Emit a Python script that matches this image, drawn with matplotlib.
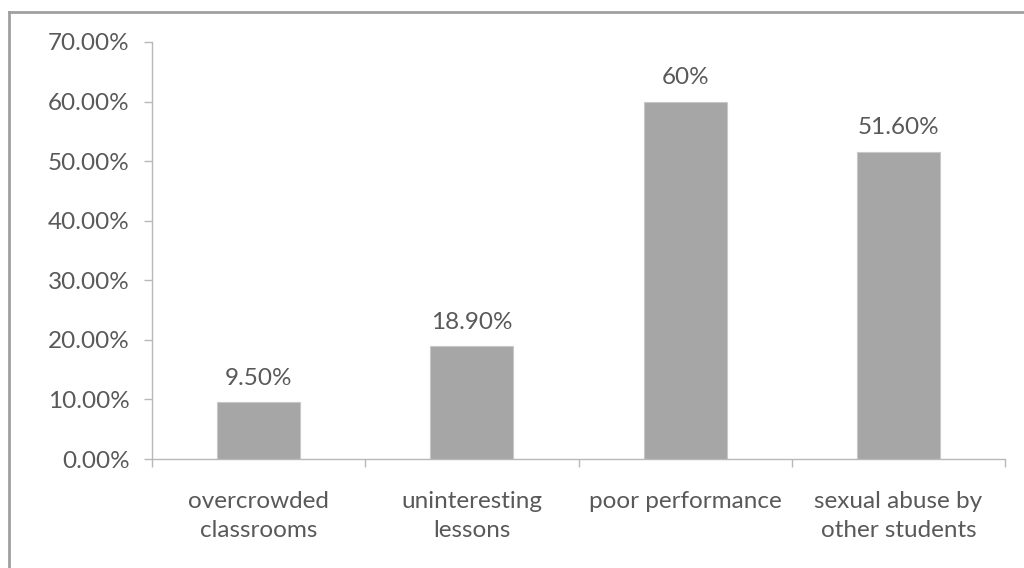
import numpy as np
import matplotlib
matplotlib.use('Agg')
import matplotlib.pyplot as plt
from matplotlib.lines import Line2D

categories = ['overcrowded\nclassrooms', 'uninteresting\nlessons', 'poor performance', 'sexual abuse by\nother students']
values = [9.5, 18.9, 60.0, 51.6]
labels = ['9.50%', '18.90%', '60%', '51.60%']
yticks = [0, 10, 20, 30, 40, 50, 60, 70]

plt.rcParams['font.family'] = ['Lato', 'DejaVu Sans']
text_color = '#595959'
axis_color = '#b8b8b8'
fs = 17.5

fig = plt.figure(figsize=(10.24, 5.68), dpi=100)
ax = fig.add_axes([152 / 1024, 1 - 459 / 568, (1005 - 152) / 1024, (459 - 42) / 568])

x = np.arange(len(categories))
ax.bar(x, values, width=0.39, color='#a6a6a6', edgecolor='#c8c8c8', linewidth=0.8, zorder=2)
for xi, v, lab in zip(x, values, labels):
    ax.text(xi, v + 2.3, lab, ha='center', va='bottom', fontsize=fs, color=text_color)

ax.set_xlim(-0.5, len(categories) - 0.5)
ax.set_ylim(0, 70)
ax.set_yticks(yticks)
ax.set_yticklabels(['%.2f%%' % t for t in yticks], fontsize=fs, color=text_color)
ax.set_xticks(x)
ax.set_xticklabels(categories, fontsize=fs, color=text_color, linespacing=1.5)
ax.set_xticks(np.arange(-0.5, len(categories)), minor=True)

ax.tick_params(axis='x', which='major', length=0, pad=23)
ax.tick_params(axis='x', which='minor', length=6, color=axis_color, width=1)
ax.tick_params(axis='y', length=6, color=axis_color, width=1, pad=10)

for side in ['top', 'right']:
    ax.spines[side].set_visible(False)
for side in ['left', 'bottom']:
    ax.spines[side].set_color(axis_color)
    ax.spines[side].set_linewidth(1)

# outer frame (runs off the right and bottom edges in the scan)
fig.add_artist(Line2D([9 / 1024, 9 / 1024], [0, 1 - 12 / 568], color='#a0a0a0', lw=2))
fig.add_artist(Line2D([9 / 1024, 1], [1 - 12 / 568, 1 - 12 / 568], color='#a0a0a0', lw=2))

fig.savefig('out.png', dpi=100, facecolor='white')
